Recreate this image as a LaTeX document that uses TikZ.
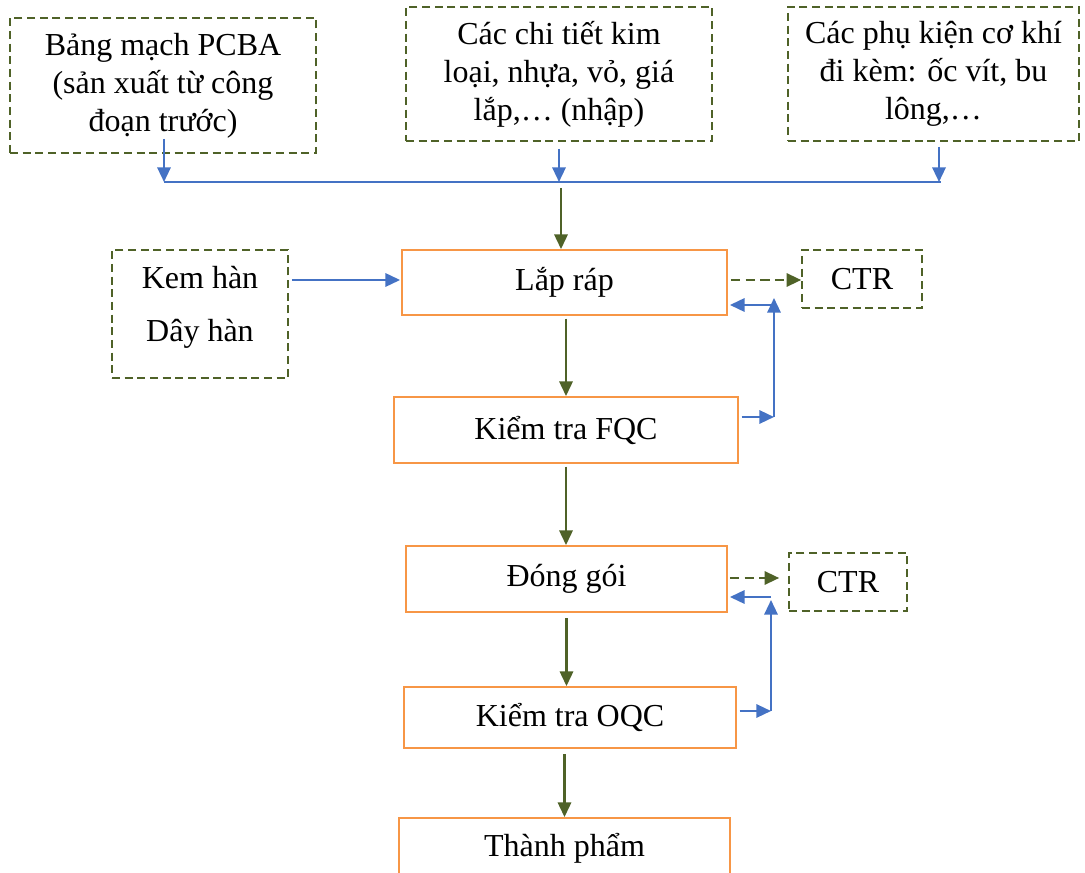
\documentclass[tikz,border=0pt]{standalone}
\usepackage{fontspec}
\setmainfont{Liberation Serif}
\usetikzlibrary{arrows.meta,calc}
\definecolor{oliveg}{HTML}{4F6228}
\definecolor{orng}{HTML}{F79646}
\definecolor{blu}{HTML}{4472C4}
\begin{document}
\begin{tikzpicture}[x=0.75pt,y=-0.75pt,
  font=\fontsize{24pt}{28.5pt}\selectfont,
  dbox/.style={draw=oliveg,line width=1.2pt,dash pattern=on 6pt off 3.5pt,inner sep=0pt,align=center},
  obox/.style={draw=orng,line width=1.4pt,inner sep=0pt,align=center},
  garrow/.style={draw=oliveg,line width=1.7pt,-{Triangle[length=11pt,width=10pt]}},
  gdash/.style={garrow,dash pattern=on 7pt off 4pt},
  barrow/.style={draw=blu,line width=1.7pt,-{Triangle[length=11pt,width=10pt]}},
  bline/.style={draw=blu,line width=1.2pt}]
\useasboundingbox (0,0) rectangle (1085,873);
\clip (0,0) rectangle (1085,873);

% input boxes
\node[dbox,minimum width=229.5pt,minimum height=101.25pt] (pcba) at (163,85.5)
  {Bảng mạch PCBA\\(sản xuất từ công\\đoạn trước)};
\node[dbox,minimum width=229.5pt,minimum height=100.5pt] (chitiet) at (559,74)
  {Các chi tiết kim\\loại, nhựa, vỏ, giá\\lắp,… (nhập)};
\node[dbox,minimum width=218.25pt,minimum height=100.5pt] (phukien) at (933.5,74)
  {Các phụ kiện cơ khí\\đi kèm: ốc vít, bu\\lông,…};
\node[dbox,minimum width=132pt,minimum height=96pt,
  label={[name=kemtext,align=center,yshift=5pt]center:Kem hàn\\[11.25pt]Dây hàn}] (kem) at (200,314) {};

% process boxes
\node[obox,minimum width=243.75pt,minimum height=48.75pt] (lap) at (564.5,282.5) {Lắp ráp};
\node[dbox,minimum width=90pt,minimum height=43.5pt] (ctr1) at (862,279) {CTR};
\node[obox,minimum width=258pt,minimum height=49.5pt] (fqc) at (566,430) {Kiểm tra FQC};
\node[obox,minimum width=240.75pt,minimum height=49.5pt] (dong) at (566.5,579) {Đóng gói};
\node[dbox,minimum width=88.5pt,minimum height=43.5pt] (ctr2) at (848,582) {CTR};
\node[obox,minimum width=249pt,minimum height=45.75pt] (oqc) at (570,717.5) {Kiểm tra OQC};
\node[obox,minimum width=248.25pt,minimum height=45pt] (thanh) at (564.5,848) {Thành phẩm};

% collector bus
\coordinate (b1) at (164,182);
\coordinate (b2) at (559,182);
\coordinate (b3) at (939,182);
\coordinate (g0) at (561,188);
\draw[barrow] ($(pcba.south)+(1,-15)$) -- (b1);
\draw[barrow] ($(chitiet.south)+(0,7)$) -- (b2);
\draw[barrow] ($(phukien.south)+(5.5,5)$) -- (b3);
\draw[bline] (b1) -- ($(b3)+(2,0)$);
\draw[garrow] (g0) -- (g0 |- lap.north);

\draw[barrow] ($(kem.east)+(3,-34)$) -- ($(lap.west)+(-1,-2.5)$);
\draw[gdash] ($(lap.east)+(3,-2.5)$) -- ($(ctr1.west)+(0,1)$);

% FQC loop
\coordinate (f1) at (774,417);
\coordinate (f2) at (774,298);
\coordinate (f3) at (774,305);
\draw[barrow,shorten <=2pt] (fqc.east |- f1) -- (f1);
\draw[barrow] (f1) -- (f2);
\draw[barrow] (f3) -- ($(f3 -| lap.east)+(2,0)$);

\draw[garrow,shorten <=2pt] (lap.south -| fqc.north) -- (fqc.north);
\draw[garrow,shorten <=2pt] (fqc.south) -- (fqc.south |- dong.north);

\draw[gdash] ($(dong.east)+(2,-1)$) -- ($(dong.east -| ctr2.west)+(-9,-1)$);

% OQC loop
\coordinate (o1) at (771,711);
\coordinate (o2) at (771,600);
\coordinate (o3) at (771,597);
\draw[barrow,shorten <=2pt] (oqc.east |- o1) -- (o1);
\draw[barrow] (o1) -- (o2);
\draw[barrow] (o3) -- ($(o3 -| dong.east)+(2,0)$);

\draw[garrow,shorten <=4pt] (dong.south) -- (dong.south |- oqc.north);
\draw[garrow,shorten <=4pt] (oqc.south -| thanh.north) -- (thanh.north);
\end{tikzpicture}
\end{document}
